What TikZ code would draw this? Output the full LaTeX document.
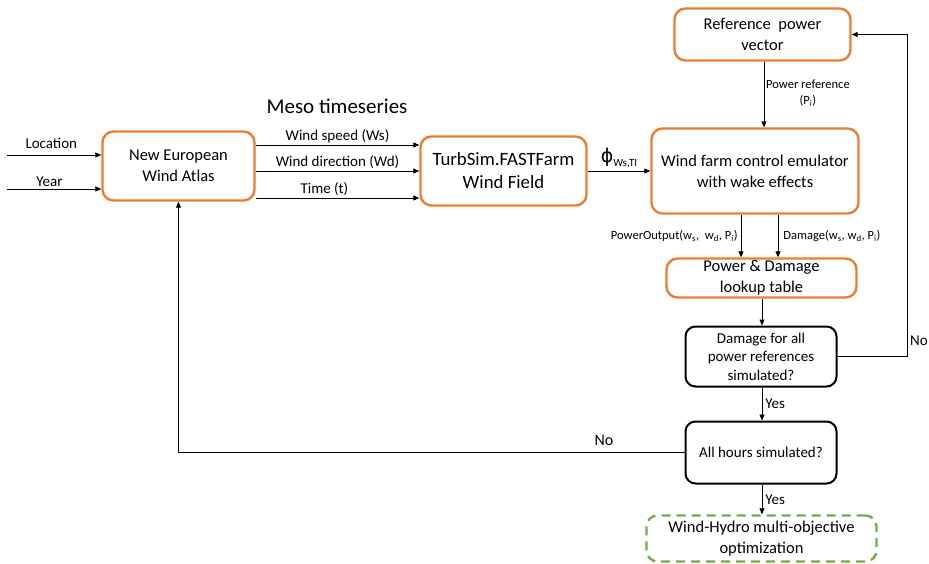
\documentclass[tikz,border=0pt]{standalone}
\usepackage{fontspec}
\setmainfont{Carlito}
\newfontfamily\dvs{DejaVu Sans}
\usetikzlibrary{arrows.meta,calc}
\definecolor{orng}{HTML}{ED7D31}
\definecolor{grn}{HTML}{70AD47}
\begin{document}
\begin{tikzpicture}[x=1pt,y=-1pt,
 obox/.style={draw=orng,line width=2.4pt,rounded corners=11pt,align=center,inner sep=0pt,font=\fontsize{16.5}{21}\selectfont},
 kbox/.style={draw=black,line width=2pt,rounded corners=10pt,align=center,inner sep=0pt,font=\fontsize{15}{18.5}\selectfont},
 gbox/.style={draw=grn,line width=2.4pt,dash pattern=on 9pt off 6pt,rounded corners=11pt,align=center,inner sep=0pt,font=\fontsize{16.5}{21}\selectfont},
 arr/.style={-{Triangle[length=6pt,width=5pt]},line width=0.8pt,draw=black},
 lbl/.style={font=\fontsize{15}{17}\selectfont,inner sep=2pt},
 slbl/.style={font=\fontsize{12.5}{16}\selectfont,inner sep=0pt,align=center}]
\useasboundingbox (0,0) rectangle (929,564);
\node[obox,minimum width=152pt,minimum height=69pt] (newa) at (178.5,166) {New European\\Wind Atlas};
\node[obox,minimum width=166pt,minimum height=69pt,font=\fontsize{18.8}{23}\selectfont] (turb) at (503.5,171) {TurbSim.FASTFarm\\Wind Field};
\node[obox,minimum width=207pt,minimum height=85pt] (wfc) at (755,171) {Wind farm control emulator\\with wake effects};
\node[obox,minimum width=176pt,minimum height=52pt] (ref) at (762.5,34.5) {Reference\ \ power\\vector};
\node[obox,minimum width=190pt,minimum height=39pt] (lut) at (761.5,278) {Power \& Damage\\lookup table};
\node[kbox,minimum width=151pt,minimum height=60pt] (dec1) at (761,356.5) {Damage for all\\power references\\simulated?};
\node[kbox,minimum width=151pt,minimum height=62pt] (dec2) at (761,452.5) {All hours simulated?};
\node[gbox,minimum width=230pt,minimum height=46pt] (opt) at (761.5,538.5) {Wind-Hydro multi-objective\\optimization};
\node[font=\fontsize{21}{24}\selectfont] (meso) at (337,106) {Meso timeseries};
% inputs
\coordinate (loc) at (7,155);
\coordinate (yr) at (7,189);
\draw[arr] (loc) -- (newa.west |- loc) node[lbl,pos=0.47,above=4pt] {Location};
\draw[arr] (yr) -- (newa.west |- yr) node[lbl,pos=0.45,above] {Year};
% meso series
\coordinate (ws) at (0,145);
\coordinate (wd) at (0,171);
\coordinate (tt) at (0,198);
\draw[arr] (newa.east |- ws) -- (turb.west |- ws) node[lbl,pos=0.5,above] {Wind speed (Ws)};
\draw[arr] (newa.east |- wd) -- (turb.west |- wd) node[lbl,pos=0.5,above] {Wind direction (Wd)};
\draw[arr] (newa.east |- tt) -- (turb.west |- tt) node[lbl,pos=0.42,above] {Time (t)};
% phi
\draw[arr] (turb.east) -- (wfc.west) node[midway,above,inner sep=3pt] {{\dvs\fontsize{19}{20}\selectfont ϕ}\raisebox{-4pt}{\fontsize{11}{12}\selectfont Ws,TI}};
% power reference
\coordinate (prx) at (764,0);
\draw[arr] (ref.south -| prx) -- (wfc.north -| prx);
\node[slbl,anchor=west] (prl) at (766,93) {Power reference\\(P\textsubscript{i})};
% outputs
\coordinate (pox) at (741,0);
\coordinate (dmx) at (778,0);
\draw[arr] (wfc.south -| pox) -- (lut.north -| pox) node[slbl,midway,left=3pt] {PowerOutput(w\textsubscript{s},\ \ w\textsubscript{d}, P\textsubscript{i})};
\draw[arr] (wfc.south -| dmx) -- (lut.north -| dmx) node[slbl,midway,right=5pt] {Damage(w\textsubscript{s}, w\textsubscript{d}, P\textsubscript{i})};
% flow
\coordinate (fx) at (762,0);
\draw[arr] (lut.south -| fx) -- (dec1.north -| fx);
\draw[arr] (dec1.south -| fx) -- (dec2.north -| fx) node[lbl,midway,right=1pt] {Yes};
\draw[arr] (dec2.south -| fx) -- (opt.north -| fx) node[lbl,midway,right=1pt] {Yes};
% loops
\coordinate (c1) at (907,356.5);
\draw[arr] (dec1.east) -- (c1) |- (ref.east);
\node[lbl] (no1) at (919,341) {No};
\draw[arr] (dec2.west) -| (newa.south);
\node[lbl,font=\fontsize{16}{18}\selectfont] (no2) at (604,440) {No};
\end{tikzpicture}
\end{document}
